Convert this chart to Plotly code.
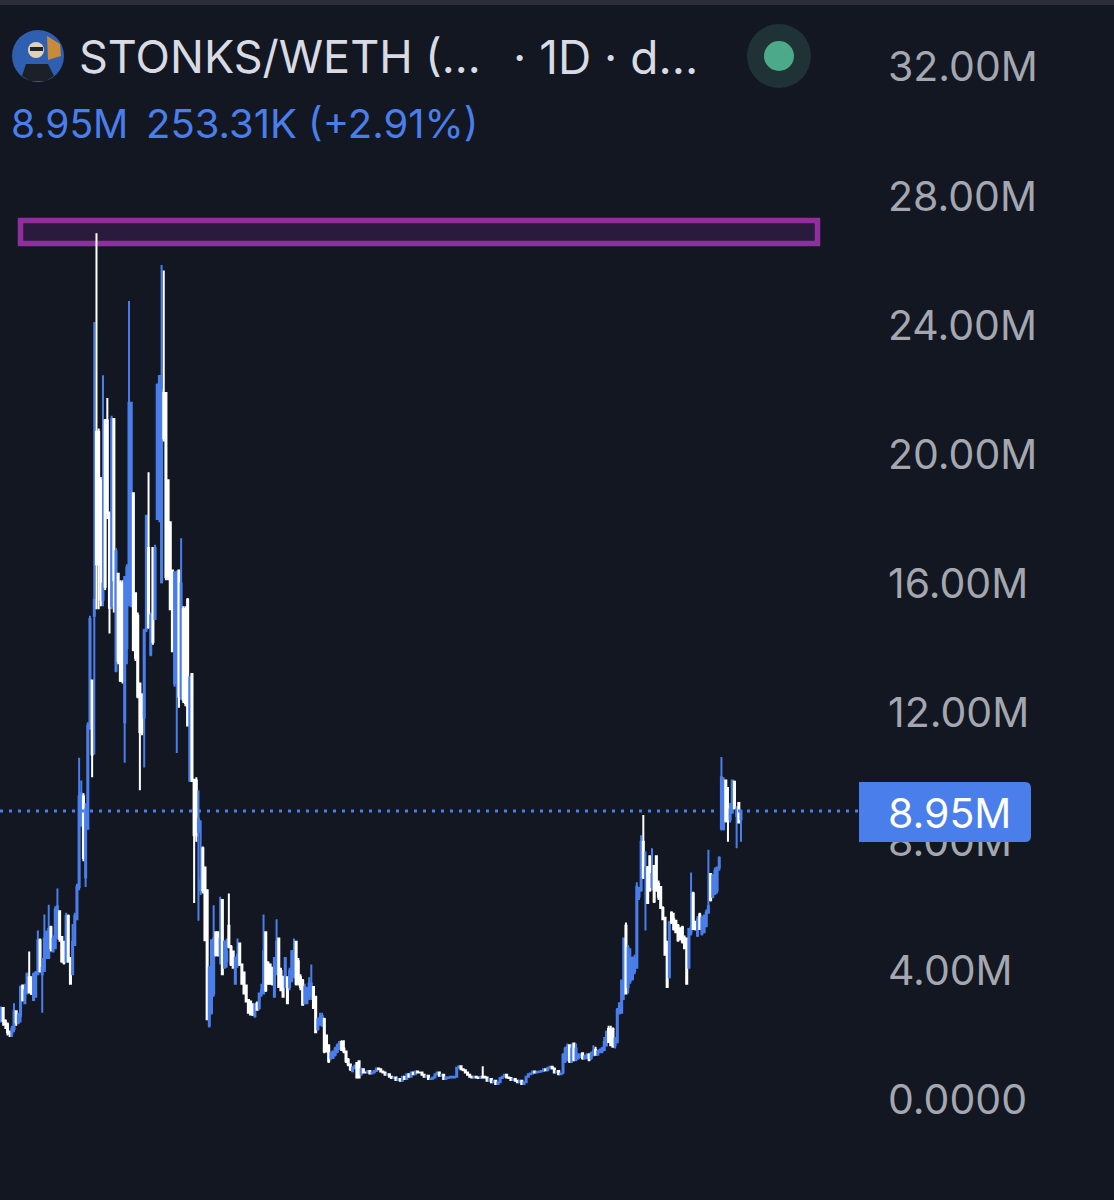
import plotly.graph_objects as go

# Daily candles, values in millions
opens = [
 2.45,2.85,2.45,2.35,2.1,2.05,2.2,2.75,2.4,2.6,
 3.55,3.0,3.3,3.8,3.8,3.1,3.2,3.9,4.95,3.9,
 4.0,4.4,4.4,5.35,4.6,4.7,5.0,5.85,5.05,4.9,
 4.3,5.7,4.4,3.9,4.8,5.6,6.6,8.5,9.4,6.9,
 8.4,11.5,13.0,15,20.7,20.7,19.2,15.5,21.05,21.05,
 18.2,15.3,21.1,13.3,16.3,16,16,11.7,14,15.4,
 15.3,18.8,15.7,15,12.9,12.5,11.85,14.6,17.1,13.8,
 17.1,14.9,18,18,16.05,21.9,21.9,19.2,17.9,16.4,
 12.9,12.9,16.4,12.5,15.2,15.2,15.5,9.9,13.2,9.9,
 9.9,8.3,6.5,7.8,7.2,6.5,2.3,2.7,3.3,5.2,
 5.2,4.5,6.2,4.1,4.3,5.4,4.75,4.6,3.6,4.3,
 4.85,4.2,3.95,3.55,3.1,3.05,2.95,2.6,3.0,2.85,
 3.3,3.3,5.2,4.25,4.2,4.1,3.2,3.9,5.0,4.0,
 3.8,3.5,3.8,3.5,3.7,3.8,4.9,4.3,3.8,3.7,
 3.0,3.0,3.2,3.2,3.5,3.2,2.2,2.4,2.3,2.5,
 2.0,1.7,1.3,1.3,1.4,1.5,1.6,1.8,1.6,1.5,
 1.25,1.1,.9,1.0,1.15,1.2,.8,
 .95,.85,.85,.9,.82,.85,.9,.98,.95,.88,
 .85,.78,.8,.72,.68,.7,.62,.65,.6,.72,
 .65,.8,.72,.85,.8,.88,.85,.85,.78,.72,
 .75,.65,.66,.7,.8,.85,.75,.78,.65,.68,
 .7,.7,.7,.72,1.0,1.05,.95,.92,.85,.78,
 .72,.7,.72,.7,.68,.72,.72,.7,.6,.65,
 .55,.6,.5,.55,.68,.72,.78,.7,.68,.62,
 .65,.6,.55,.6,.5,.55,.72,.8,.82,.88,
 .85,.87,.88,.9,.95,.92,1.0,1.03,.98,.85,.9,.8,
 .85,1.2,1.3,1.7,1.2,1.75,1.25,1.3,1.35,1.45,
 1.3,1.3,1.4,1.3,1.4,1.55,1.4,1.5,1.5,1.55,
 1.7,2.2,2.15,2.2,1.7,1.8,2.7,2.7,3.3,5.4,
 3.5,3.7,3.75,4.0,4.1,6.3,6.5,8.0,6.9,7.2,
 7.55,6.6,7.25,7.55,6.7,6.6,5.95,5.65,4.9,3.8,
 5.8,5.6,5.55,5.4,5.3,5.35,5.0,5.0,4.1,5.2,
 6.4,5.5,5.1,5.75,5.15,5.2,5.4,5.8,7.0,6.3,
 6.4,6.5,7.2,8.4,8.4,9.9,9.1,8.7,8.9,9.85,
 8.8,9.2,8.7]
closes = [
 2.85,2.45,2.35,2.1,2.05,2.2,2.75,2.4,2.6,3.5,
 3.1,3.4,3.9,3.35,3.3,3.9,3.95,4.95,4.0,4.1,
 5.0,5.2,5.3,4.7,5.0,5.9,6.0,5.0,4.3,4.25,
 5.7,4.3,3.6,4.9,5.7,6.6,9.4,9.5,7.5,9.0,
 11.6,14.9,10.7,15.5,16.6,16.6,15.5,16,15.9,18.2,
 15.25,21.1,16.1,17,13.6,13,13,16.2,16.5,21.6,
 21.6,13.95,13.7,12.5,11.4,11.4,14.55,18.1,14.65,15,
 14.2,17.1,22.15,22.43,22,20.5,16.2,16.2,15.2,13.9,
 16.35,16.3,12.5,16,12.4,12.3,11.6,13.1,9.9,8.2,
 8.2,8.7,6.8,6.5,4.95,2.5,4.1,4.95,5,4.5,
 4.5,5,3.9,4.9,4.6,4.75,4.2,4.1,4.4,4.5,
 4.2,3.6,3.3,3.05,2.7,2.65,2.65,2.95,2.8,3.3,
 3.4,4.6,3.4,3.6,3.6,3.6,4.4,4.9,3.5,3.4,
 3.2,4.4,3.0,4.0,4.6,4.5,3.6,3.7,3.5,2.95,
 3.5,3.4,3.6,3.6,2.85,2.1,2.5,2.55,2.6,1.5,
 1.5,1.2,1.45,1.5,1.6,1.7,1.8,1.55,1.5,1.2,
 1.1,.95,1.0,1.05,.7,.7,.95,
 .85,.85,.9,.82,.85,.9,.98,.95,.88,.85,
 .78,.8,.72,.68,.7,.62,.65,.6,.72,.65,
 .8,.72,.85,.8,.88,.85,.85,.78,.72,.75,
 .65,.66,.7,.8,.85,.75,.78,.65,.7,.7,
 .72,.72,.72,1.0,1.05,.95,.92,.85,.78,.72,
 .7,.72,.7,.68,.72,.7,.7,.6,.65,.55,
 .6,.5,.55,.68,.72,.78,.7,.68,.62,.65,
 .6,.55,.6,.5,.55,.72,.8,.82,.88,.85,
 .87,.88,.9,.95,.92,1.0,1.03,.98,.85,.9,.8,.82,
 1.4,1.6,1.65,1.2,1.6,1.25,1.6,1.4,1.4,1.3,
 1.35,1.4,1.25,1.45,1.5,1.4,1.5,1.55,1.6,1.8,
 2.1,1.8,1.7,1.65,1.9,2.8,3.0,3.7,5.0,3.3,
 4.7,4.4,4.4,4.3,6.6,6.5,8.0,6.9,7.2,6.1,
 6.5,7.0,6.15,6.5,6.3,5.95,5.6,4.5,3.5,5.5,
 5.5,5.3,5.2,4.95,5.0,4.9,4.7,3.6,5.3,5.35,
 5.3,5.3,5.6,5.3,5.65,5.7,5.8,6.0,6.2,6.95,
 7.1,7.2,7.5,10.0,9.9,8.65,8.9,9.0,9.9,9.05,
 9.0,8.6,8.95]
highs = [
 2.9,2.85,2.5,2.4,2.15,2.3,3.0,2.75,2.7,3.55,
 3.55,3.6,3.95,4.6,3.8,3.95,4.0,5.25,5.0,4.4,
 5.75,5.25,6.05,5.4,5.1,6.0,6.55,5.85,5.05,4.9,
 5.8,5.75,4.4,5.45,5.8,6.7,10.6,9.9,9.5,9.2,
 11.7,15,13,24.1,26.85,20.8,19.3,22.45,21.1,21.75,
 18.2,21.2,21.1,17.1,16.3,16.1,16.1,16.2,16.6,24.75,
 21.6,18.8,15.7,15.1,12.9,12.6,14.6,18.1,19.45,15.1,
 17.1,17.2,22.2,22.45,25.87,25.7,21.9,19.2,17.9,16.4,
 16.35,16.4,16.4,17.4,15.3,15.3,15.55,13.1,13.2,9.95,
 10,9.6,8.67,7.85,7.2,6.5,4.15,4.95,6.03,5.2,
 5.2,6.3,6.2,4.95,5,6.4,4.8,4.6,4.45,5,
 4.85,4.2,3.95,3.55,3.1,3.05,3,3,3.05,3.3,
 3.6,5.75,5.2,4.3,4.2,4.1,4.4,5.6,5.0,4.1,
 3.85,4.4,3.8,4.1,4.65,5.0,4.9,4.4,3.9,3.75,
 3.6,3.5,3.8,4.2,3.5,3.2,2.55,2.7,2.7,2.55,
 2.0,1.7,1.5,1.5,1.65,1.75,1.8,1.85,1.85,1.5,
 1.3,1.1,1.05,1.1,1.15,1.2,1.0,
 .97,.88,.92,.92,.87,.92,1.0,1.0,.97,.9,
 .87,.82,.82,.74,.72,.72,.67,.67,.74,.74,
 .82,.82,.87,.87,.9,.9,.87,.87,.8,.77,
 .77,.68,.72,.82,.87,.87,.8,.8,.72,.72,
 .74,.74,.74,1.02,1.07,1.06,.97,.94,.87,.8,
 .74,.74,.74,.72,.74,1.05,.74,.72,.67,.67,
 .62,.62,.57,.7,.74,.8,.8,.72,.7,.67,
 .67,.62,.62,.62,.57,.74,.82,.84,.9,.9,
 .89,.9,.92,.97,.97,1.02,1.05,1.05,1.0,.92,.92,.84,
 1.45,1.65,1.75,1.7,1.75,1.75,1.75,1.45,1.45,1.45,
 1.4,1.45,1.45,1.5,1.7,1.65,1.55,1.6,1.65,1.95,
 2.15,2.3,2.3,2.25,1.95,2.85,3.0,3.7,5.0,5.5,
 4.8,4.7,4.45,4.5,6.75,6.6,8.2,8.83,7.7,7.25,
 7.55,7.8,7.25,7.55,6.8,6.6,6.0,5.65,4.9,5.55,
 5.85,5.8,5.55,5.45,5.35,5.4,5.1,5.0,5.3,7.05,
 6.45,5.55,5.7,5.8,5.7,5.75,5.9,7.75,7.0,7.0,
 7.2,7.2,7.55,10.63,10,9.9,9.7,9.2,9.9,9.9,
 9.1,9.2,9.0]
lows = [
 2.4,2.3,2.2,2.0,1.95,1.95,2.1,2.3,2.35,2.4,
 3.05,3.0,3.3,3.3,3.25,3.1,3.2,3.9,3.95,2.7,
 4.0,4.4,4.4,4.6,4.6,4.7,5.0,4.9,4.25,4.2,
 4.25,4.25,3.6,3.9,4.8,5.6,6.5,8.5,7.4,6.6,
 8.4,11.5,10.0,10.7,15.2,15.2,15.3,15.3,15.8,18,
 14.45,15.2,15.1,13.25,13.5,12.95,12.9,10.45,13.5,15.3,
 15.3,13.9,13.6,12.45,9.6,11.3,10.3,14.5,14.6,13.75,
 14.1,14.9,18,17.9,16,20.4,16.1,16.1,15.2,13.9,
 12.8,10.75,12.15,12.4,12.3,12.2,11.6,9.85,9.85,6.1,
 8,5.55,6.35,6.4,4.95,2.5,2.25,2.65,3.2,4.45,
 4.45,4.2,3.9,4.1,4.1,4.7,4.15,4.1,3.6,4.1,
 4.15,3.6,3.3,3.05,2.7,2.65,2.6,2.55,2.8,2.8,
 3.2,3.3,3.35,3.6,3.6,3.55,3.2,3.9,3.5,3.4,
 3.2,3.5,3.0,3.4,3.65,3.8,3.55,3.55,3.4,2.95,
 3,3,3.1,3.1,2.85,2.1,2.15,2.3,2.3,1.45,
 1.5,1.15,1.25,1.3,1.35,1.45,1.55,1.55,1.45,1.15,
 1.05,.9,.85,.95,.7,.7,.75,
 .82,.83,.84,.8,.8,.83,.88,.93,.86,.83,
 .76,.76,.7,.66,.66,.6,.6,.58,.58,.63,
 .63,.7,.7,.78,.78,.83,.83,.76,.7,.7,
 .63,.63,.64,.68,.78,.73,.73,.63,.63,.66,
 .68,.68,.68,.7,.98,.93,.9,.83,.76,.7,
 .68,.68,.68,.66,.66,.68,.68,.58,.58,.53,
 .53,.48,.48,.53,.66,.7,.68,.66,.6,.6,
 .58,.53,.53,.48,.48,.53,.7,.78,.8,.83,
 .83,.85,.86,.88,.9,.9,.98,.96,.83,.83,.78,.78,
 .8,1.15,1.2,1.15,1.15,1.2,1.2,1.25,1.3,1.25,
 1.25,1.3,1.2,1.25,1.35,1.4,1.4,1.45,1.45,1.55,
 1.65,1.8,1.7,1.65,1.6,1.75,2.65,2.7,3.1,3.3,
 3.3,3.6,3.7,3.9,4.1,6.2,6.45,6.85,5.25,6.1,
 6.45,6.5,6.1,6.45,6.2,5.95,5.6,4.5,3.55,3.8,
 5.45,5.25,5.2,4.9,4.95,4.85,4.7,3.65,4.1,5.1,
 5.3,5.25,5.05,5.3,5.1,5.2,5.35,5.8,6.15,6.25,
 6.35,6.4,7.1,8.35,8.35,8.6,8.0,8.6,8.9,9.0,
 7.8,8.6,8.0]
candle_index = list(range(len(closes)))

tick_values = [0, 4, 8, 12, 16, 20, 24, 28, 32]
tick_labels = ["0.0000", "4.00M", "8.00M", "12.00M", "16.00M", "20.00M", "24.00M", "28.00M", "32.00M"]
last_price = 8.95
zone_low, zone_high = 26.53, 27.25

W, H = 1114, 1200
BLUE = "#4a7eea"
BG = "#131722"
fx = lambda p: p / W
fy = lambda p: 1 - p / H

def circle(cx, cy, r, color):
    return dict(type="circle", xref="paper", yref="paper", x0=fx(cx - r), x1=fx(cx + r),
                y0=fy(cy + r), y1=fy(cy - r), fillcolor=color, line_width=0, layer="above")

def path(points, color):
    d = "M " + " L ".join(f"{fx(x):.5f},{fy(y):.5f}" for x, y in points) + " Z"
    return dict(type="path", xref="paper", yref="paper", path=d, fillcolor=color, line_width=0, layer="above")

fig = go.Figure(go.Candlestick(
    x=candle_index, open=opens, high=highs, low=lows, close=closes,
    increasing=dict(line=dict(color=BLUE, width=2), fillcolor=BLUE),
    decreasing=dict(line=dict(color="#ffffff", width=2), fillcolor="#ffffff"),
    whiskerwidth=0, hoverinfo="skip", showlegend=False,
))

# rounded price tag
tx0, tx1, ty0, ty1, rr = 859, 1031, 782, 842, 6
tag = (f"M {fx(tx0):.5f},{fy(ty0):.5f} L {fx(tx1-rr):.5f},{fy(ty0):.5f} "
       f"Q {fx(tx1):.5f},{fy(ty0):.5f} {fx(tx1):.5f},{fy(ty0+rr):.5f} "
       f"L {fx(tx1):.5f},{fy(ty1-rr):.5f} Q {fx(tx1):.5f},{fy(ty1):.5f} {fx(tx1-rr):.5f},{fy(ty1):.5f} "
       f"L {fx(tx0):.5f},{fy(ty1):.5f} Z")

shapes = [
    dict(type="rect", xref="paper", yref="paper", x0=0, x1=1, y0=fy(5), y1=1, fillcolor="#2c2f3a", line_width=0, layer="below"),
    dict(type="rect", xref="paper", yref="y", x0=fx(20.5), x1=fx(817.5), y0=zone_low, y1=zone_high,
         fillcolor="#2a1a3c", line=dict(color="#8e2f9d", width=5.5), layer="below"),
    dict(type="line", xref="paper", yref="y", x0=0, x1=fx(860), y0=last_price, y1=last_price,
         line=dict(color=BLUE, width=3, dash="3px,6px"), layer="above"),
    dict(type="path", xref="paper", yref="paper", path=tag, fillcolor=BLUE, line_width=0, layer="above"),
    # pair avatar
    circle(38, 56, 26, "#2f5fb0"),
    path([(47, 36), (60, 44), (61, 56), (48, 60)], "#c98a3a"),
    path([(22, 76), (26, 64), (48, 64), (54, 76), (46, 81), (30, 81)], "#1c2029"),
    circle(36, 50, 8, "#e3d2b8"),
    path([(30, 47), (43, 47), (43, 51), (30, 51)], "#20242c"),
    # status dot
    circle(779, 56, 32, "#1f3236"),
    circle(779, 56, 15, "#4caa8b"),
]

def text(x, y, s, size, color):
    return dict(x=fx(x), y=fy(y), xref="paper", yref="paper", xanchor="left", yanchor="middle",
                text=s, showarrow=False, font=dict(family="Inter", size=size, color=color))

annotations = [
    text(77, 57, "STONKS/WETH (...", 45, "#d8dbe3"),
    text(511, 57, "· 1D · d...", 46, "#d8dbe3"),
    text(9, 123, "8.95M", 39, BLUE),
    text(144, 123, "253.31K (+2.91%)", 40, BLUE),
    text(886, 813, "8.95M", 41, "#ffffff"),
]

fig.update_layout(
    width=W, height=H, autosize=False,
    margin=dict(l=0, r=0, t=0, b=0, pad=0),
    paper_bgcolor=BG, plot_bgcolor=BG, showlegend=False,
    shapes=shapes, annotations=annotations,
    xaxis=dict(domain=[0, 880 / W], range=[-0.46, 405.07], visible=False, rangeslider=dict(visible=False), showgrid=False),
    yaxis=dict(side="right", range=[-3.097, 34.077], domain=[0, 1], tickmode="array", tickvals=tick_values,
               ticktext=tick_labels, showgrid=False, zeroline=False, showline=False, ticks="",
               ticklabelstandoff=7, tickfont=dict(family="Inter", size=41, color="#a4a7b0")),
)

fig.write_html("out.html", config=dict(displayModeBar=False),
               post_script="document.body.style.margin='0';document.documentElement.style.overflow='hidden';")
